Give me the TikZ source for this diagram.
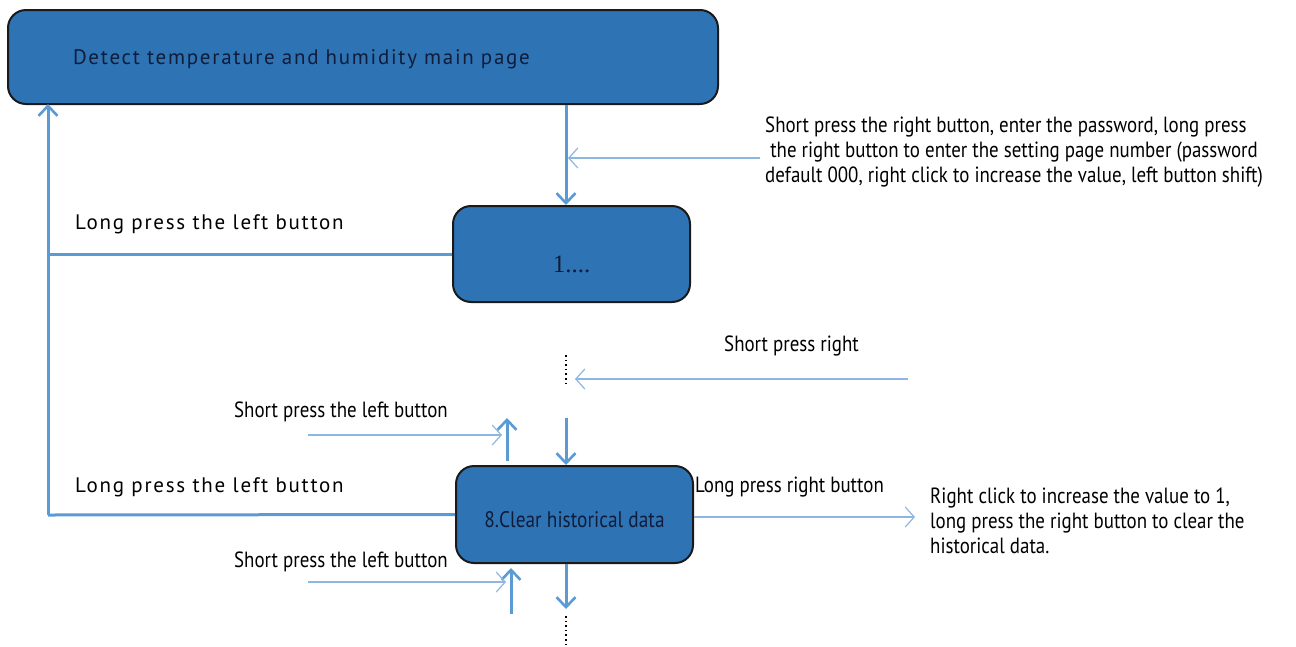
\documentclass[tikz,border=0pt]{standalone}
\usepackage{fontspec}
\setmainfont{PT Sans}
\newfontfamily\condsans[FakeStretch=0.86]{PT Sans}
\newfontfamily\widesans[LetterSpace=8.3]{PT Sans}
\newfontfamily\numserif{Liberation Serif}
\usetikzlibrary{arrows.meta}
\definecolor{boxblue}{HTML}{2E74B5}
\definecolor{boxedge}{HTML}{1A1A1A}
\definecolor{flowblue}{HTML}{5B9BD5}
\definecolor{hintblue}{HTML}{8DB6E2}
\definecolor{navytext}{HTML}{101C3A}
\tikzset{
  pagebox/.style={draw=boxedge, line width=2pt, fill=boxblue, rounded corners=18pt,
    text=navytext, inner sep=0pt},
  flow/.style={draw=flowblue, line width=3pt},
  flowarrow/.style={flow, -{Straight Barb[length=10pt,width=19pt,line width=2.6pt]}},
  hint/.style={draw=hintblue, line width=1.4pt, -{Straight Barb[length=9pt,width=20pt,line width=1.2pt]}},
  widelabel/.style={font=\widesans\fontsize{21}{24}\selectfont, anchor=west, inner sep=0pt},
  condlabel/.style={font=\condsans\fontsize{22}{25}\selectfont, anchor=west, inner sep=0pt, align=left},
  ellipsis/.style={draw=black, line width=1.6pt, dash pattern=on 1.6pt off 3pt},
}
% text set on a zero-size box, its baseline lowered by #1 from the node centre
\newcommand\baselow[2]{\raisebox{-#1}[0pt][0pt]{#2}}
\begin{document}
\begin{tikzpicture}[x=1pt, y=-1pt]
\useasboundingbox (0,0) rectangle (1296,646);

% pages
\node[pagebox, minimum width=710pt, minimum height=94pt, text width=580pt, align=left,
      font=\widesans\fontsize{21}{24}\selectfont] (main) at (363,57)
  {\baselow{7.5pt}{Detect temperature and humidity main page}};
\node[pagebox, minimum width=237pt, minimum height=96pt, font=\numserif\fontsize{25}{28}\selectfont]
  (p1) at (571.5,254) {\baselow{18pt}{1....}};
\node[pagebox, minimum width=237pt, minimum height=97pt, font=\condsans\fontsize{22.5}{24}\selectfont]
  (p8) at (574.5,514.5) {\baselow{13pt}{8.Clear historical data}};

% helper points
\coordinate (ret) at (48,515);
\coordinate (retTop) at (48,104);
\coordinate (pwdFrom) at (760,158);
\coordinate (pwdTo) at (568,158);
\coordinate (dotsA) at (566,355);
\coordinate (dotsB) at (566,384);
\coordinate (spRfrom) at (908,379);
\coordinate (spRto) at (575,379);
\coordinate (slAfrom) at (308,435);
\coordinate (slAto) at (502,435);
\coordinate (upAbot) at (507,461);
\coordinate (upAtop) at (507,418);
\coordinate (dnAtop) at (566,418);
\coordinate (lrTo) at (915,517);
\coordinate (slBfrom) at (308,582);
\coordinate (slBto) at (506,582);
\coordinate (upBbot) at (511,614);
\coordinate (upBtop) at (511,568);
\coordinate (dnBbot) at (566,609);
\coordinate (dotsC) at (566,616);
\coordinate (dotsD) at (566,646);

% main flow
\draw[flowarrow] (main.south -| 566,0) -- (p1.north -| 566,0);
\draw[flow] (p1.west) -- (p1.west -| ret);
\draw[flow] (p8.west) -- (ret);
\draw[flowarrow] (ret) -- (retTop);
\draw[flowarrow] (dnAtop) -- (p8.north -| 566,0);
\draw[flowarrow] (upAbot) -- (upAtop);
\draw[flowarrow] (p8.south -| 566,0) -- (dnBbot);
\draw[flowarrow] (upBbot) -- (upBtop);

% key hints
\draw[hint] (pwdFrom) -- (pwdTo);
\draw[hint] (spRfrom) -- (spRto);
\draw[hint] (slAfrom) -- (slAto);
\draw[hint] (slBfrom) -- (slBto);
\draw[hint] (p8.east |- 0,517) -- (lrTo);

% continuation dots
\draw[ellipsis] (dotsA) -- (dotsB);
\draw[ellipsis] (dotsC) -- (dotsD);

% labels
\node[widelabel] (lbl1) at (75,224) {Long press the left button};
\node[widelabel] (lbl2) at (75,487) {Long press the left button};
\node[condlabel] (pwd) at (765,152)
  {Short press the right button, enter the password, long press\\
   \ the right button to enter the setting page number (password\\
   default 000, right click to increase the value, left button shift)};
\node[condlabel] (spr) at (724,346) {Short press right};
\node[condlabel] (sla) at (234,412) {Short press the left button};
\node[condlabel] (slb) at (234,562) {Short press the left button};
\node[condlabel] (lpr) at (695,487) {Long press right button};
\node[condlabel] (clr) at (930,521)
  {Right click to increase the value to 1,\\
   long press the right button to clear the\\
   historical data.};
\end{tikzpicture}
\end{document}
